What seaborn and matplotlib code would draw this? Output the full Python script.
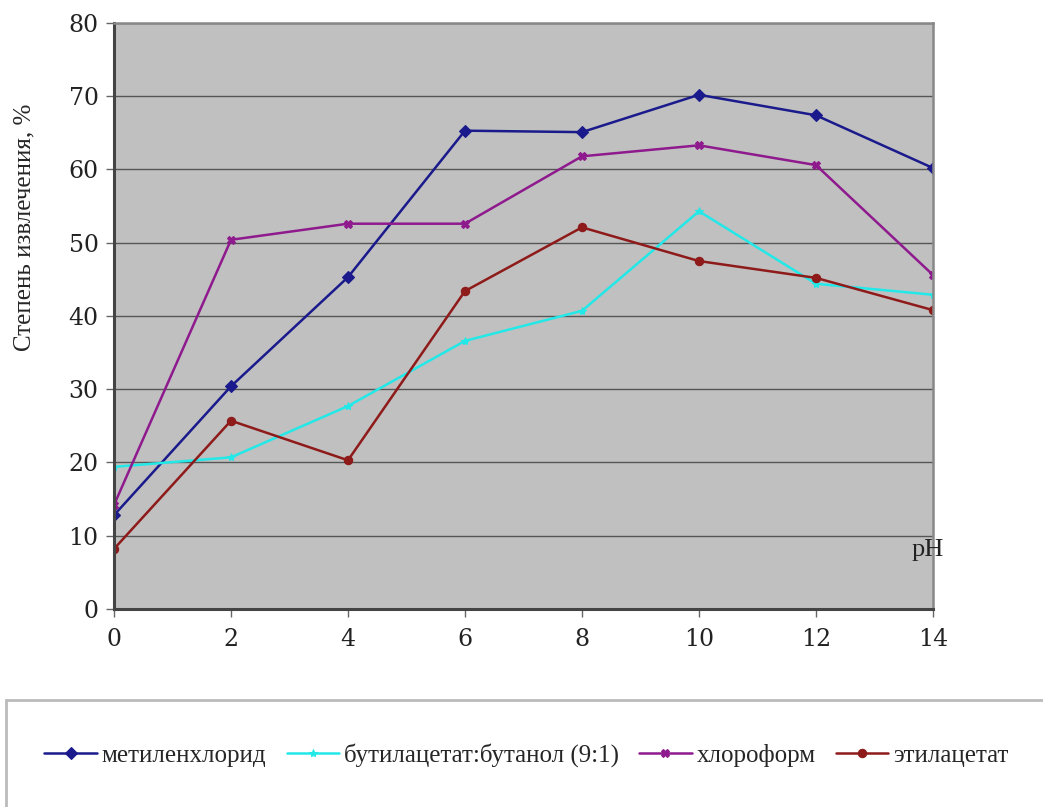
import numpy as np
import pandas as pd
import matplotlib
matplotlib.use('Agg')
import matplotlib.pyplot as plt
from matplotlib.patches import Rectangle
import seaborn as sns

ph = [0, 2, 4, 6, 8, 10, 12, 14]
names = ['метиленхлорид', 'бутилацетат:бутанол (9:1)', 'хлороформ', 'этилацетат']
methylene = [12.8, 30.4, 45.3, 65.3, 65.1, 70.2, 67.4, 60.2]
butyl = [19.4, 20.7, 27.7, 36.6, 40.7, 54.3, 44.4, 42.9]
chloroform = [14.2, 50.4, 52.6, 52.6, 61.8, 63.3, 60.6, 45.6]
ethyl = [8.2, 25.7, 20.3, 43.4, 52.1, 47.5, 45.2, 40.8]

colors = ['#1a1a8c', '#22e8e8', '#8e1a8e', '#8e1a1a']
markers = ['D', '*', 'X', 'o']

rows = []
for name, vals in zip(names, [methylene, butyl, chloroform, ethyl]):
    for x, v in zip(ph, vals):
        rows.append((name, x, v))
df = pd.DataFrame(rows, columns=['series', 'pH', 'value'])

sns.set_style('white')
plt.rcParams['font.family'] = ['Liberation Serif', 'DejaVu Serif']

fig = plt.figure(figsize=(10.43, 8.07), dpi=100)
ax = fig.add_axes([0.1093, 0.2454, 0.7852, 0.7261])
ax.set_facecolor('#c0c0c0')

sns.lineplot(data=df, x='pH', y='value', hue='series', style='series',
             palette=colors, markers=markers, dashes=False, markersize=6,
             linewidth=1.8, ax=ax, legend=True)
for ln in ax.lines:
    ln.set_markeredgecolor(ln.get_color())
    ln.set_markeredgewidth(0.8)

ax.set_xlim(0, 14)
ax.set_ylim(0, 80)
ax.set_xticks(range(0, 15, 2))
ax.set_yticks(range(0, 81, 10))
ax.yaxis.grid(True, color='#555555', linewidth=1)
ax.set_axisbelow(True)
ax.tick_params(axis='both', length=6, width=1, color='#666666', direction='out')
ax.tick_params(axis='x', pad=8)
ax.tick_params(axis='y', pad=5)
for lab in ax.get_xticklabels() + ax.get_yticklabels():
    lab.set_fontfamily('DejaVu Serif')
    lab.set_fontsize(17)
    lab.set_color('#222222')
ax.xaxis.set_ticks_position('bottom')
ax.yaxis.set_ticks_position('left')
for s in ['left', 'bottom']:
    ax.spines[s].set_color('#444444')
    ax.spines[s].set_linewidth(2.2)
for s in ['right', 'top']:
    ax.spines[s].set_color('#888888')
    ax.spines[s].set_linewidth(1.8)

ax.set_xlabel('')
ax.set_ylabel('Степень извлечения, %', fontsize=18)
ax.yaxis.set_label_coords(-0.0965, 0.652)
ax.text(13.91, 8.0, 'pH', fontsize=19, ha='center', va='center', color='#222222')

handles, labels = ax.get_legend_handles_labels()
for h in handles:
    h.set_markeredgecolor(h.get_color())
ax.get_legend().remove()
fig.patches.append(Rectangle((0.006, -0.02), 1.0, 0.152, transform=fig.transFigure,
                             facecolor='white', edgecolor='#bbbbbb', linewidth=2))
fig.legend(handles, labels, loc='center left', bbox_to_anchor=(0.021, 0.064), ncol=4,
           frameon=False, fontsize=18, handlelength=2.1, handletextpad=0.2,
           columnspacing=0.8)

fig.savefig('out.png', dpi=100)
